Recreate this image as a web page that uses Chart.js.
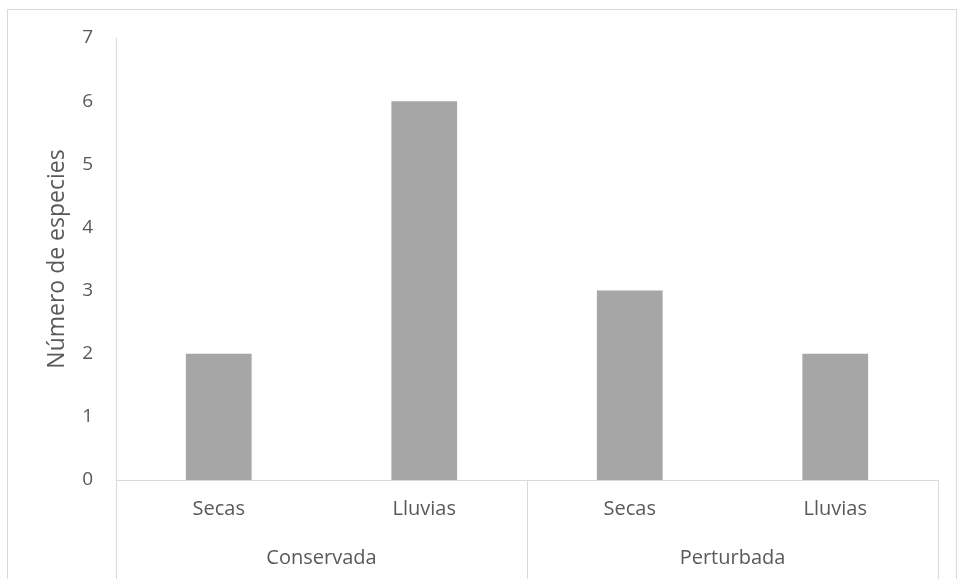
<!DOCTYPE html>
<html>
<head>
<meta charset="utf-8">
<script src="https://cdn.jsdelivr.net/npm/chart.js@4/dist/chart.umd.min.js"></script>
<style>
  html, body { margin: 0; padding: 0; background: #ffffff; }
  #wrap { width: 958px; height: 579px; position: relative; }
</style>
</head>
<body>
<div id="wrap"><canvas id="c" width="958" height="579"></canvas></div>
<script>
// Species counts per season, grouped by site condition
const seasons = ['Secas', 'Lluvias', 'Secas', 'Lluvias'];
const sites = ['Conservada', 'Perturbada'];
const speciesCount = [2, 6, 3, 2];
const yTicks = [0, 1, 2, 3, 4, 5, 6, 7];

const LINE = '#d9d9d9';
const TEXT = '#595959';
const FONT = '"Open Sans", "Liberation Sans", sans-serif';

// Frame, group dividers and group labels under the season labels
const groupAxis = {
  id: 'groupAxis',
  beforeDraw(chart) {
    const ctx = chart.ctx;
    ctx.save();
    ctx.strokeStyle = LINE;
    ctx.lineWidth = 1;
    ctx.strokeRect(7.5, 9.5, 949, 600);
    ctx.restore();
  },
  afterDraw(chart) {
    const ctx = chart.ctx;
    const x = chart.scales.x;
    const area = chart.chartArea;
    const per = seasons.length / sites.length;
    const step = (area.right - area.left) / seasons.length;
    ctx.save();
    ctx.strokeStyle = LINE;
    ctx.lineWidth = 1;
    for (let g = 0; g <= sites.length; g++) {
      const px = Math.round(area.left + g * per * step) + 0.5;
      ctx.beginPath();
      ctx.moveTo(px, area.bottom);
      ctx.lineTo(px, chart.height);
      ctx.stroke();
    }
    ctx.fillStyle = TEXT;
    ctx.font = '20px ' + FONT;
    ctx.textAlign = 'center';
    ctx.textBaseline = 'middle';
    sites.forEach((s, g) => {
      const cx = (x.getPixelForValue(g * per) + x.getPixelForValue(g * per + per - 1)) / 2;
      ctx.fillText(s, cx, 558);
    });
    ctx.restore();
  }
};

new Chart(document.getElementById('c'), {
  type: 'bar',
  data: {
    labels: seasons,
    datasets: [{
      data: speciesCount,
      backgroundColor: '#a6a6a6',
      borderWidth: 0,
      barPercentage: 1,
      categoryPercentage: 0.32
    }]
  },
  options: {
    responsive: false,
    animation: false,
    layout: { padding: { top: 38, right: 20, left: 0, bottom: 0 } },
    plugins: { legend: { display: false }, tooltip: { enabled: false } },
    scales: {
      x: {
        grid: { display: false, drawTicks: false },
        border: { display: true, color: LINE, width: 1 },
        ticks: { color: TEXT, font: { family: FONT, size: 20 }, padding: 17, maxRotation: 0 },
        afterFit(scale) { scale.height = 99; }
      },
      y: {
        min: 0,
        max: 7,
        afterBuildTicks(scale) { scale.ticks = yTicks.map(v => ({ value: v })); },
        grid: { display: false, drawTicks: false },
        border: { display: true, color: LINE, width: 1 },
        ticks: { color: TEXT, font: { family: FONT, size: 19 }, padding: 23 },
        title: {
          display: true,
          text: 'Número de especies',
          color: TEXT,
          font: { family: FONT, size: 23 },
          padding: { top: 44, bottom: 0 }
        },
        afterFit(scale) { scale.width = 116; }
      }
    }
  },
  plugins: [groupAxis]
});
</script>
</body>
</html>
